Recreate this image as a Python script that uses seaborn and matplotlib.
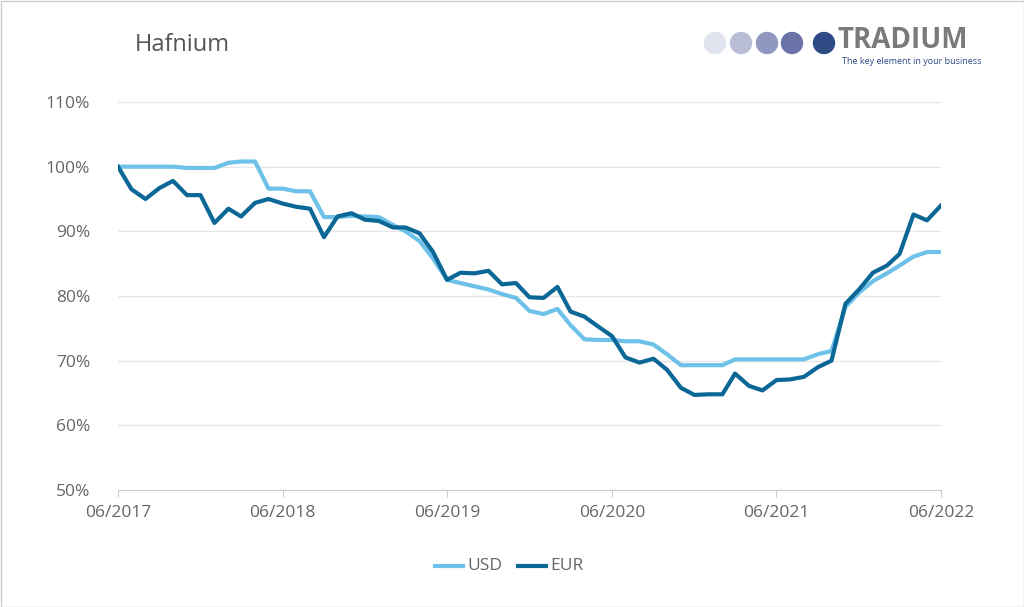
import matplotlib
matplotlib.use("Agg")
import matplotlib.pyplot as plt
import seaborn as sns
import pandas as pd
from matplotlib.patches import Ellipse, Rectangle

plt.rcParams["font.family"] = "Open Sans"

months = pd.date_range("2017-06-01", "2022-06-01", freq="MS")
usd = [100,100,100,100,100,99.8,99.8,99.8,100.6,100.8,100.8,96.6,96.6,96.2,96.2,92.2,92.2,92.4,92.3,92.2,
       91,90,88.5,85.8,82.5,82,81.5,81,80.3,79.7,77.7,77.2,78,75.5,73.3,73.2,73.2,73,73,72.5,
       71,69.3,69.3,69.3,69.3,70.2,70.2,70.2,70.2,70.2,70.2,71,71.5,78.3,80.5,82.3,83.5,84.7,86.1,86.8,86.8]
eur = [100,96.5,95,96.7,97.8,95.6,95.6,91.3,93.5,92.3,94.4,95,94.3,93.8,93.5,89.1,92.3,92.8,91.8,91.6,
       90.6,90.6,89.7,86.8,82.5,83.6,83.5,83.9,81.8,82,79.8,79.7,81.4,77.6,76.8,75.3,73.8,70.5,69.7,70.3,
       68.6,65.8,64.7,64.8,64.8,68,66.1,65.4,67,67.1,67.5,69,70,78.8,81,83.6,84.7,86.5,92.6,91.7,94]
df = pd.DataFrame({"date": list(months)*2, "value": usd+eur, "series": ["USD"]*61+["EUR"]*61})

fig = plt.figure(figsize=(10.24, 6.07), dpi=100)
ax = fig.add_axes([118/1024, 1-490/607, 823/1024, 388/607])
sns.lineplot(data=df, x="date", y="value", hue="series", palette={"USD": "#6EC1E8", "EUR": "#0B6796"},
             linewidth=3, ax=ax, legend=False)
ax.set_xlim(months[0], months[-1])
ax.set_ylim(50, 110)
ax.set_yticks(range(50, 111, 10))
ax.set_yticklabels([f"{v}%" for v in range(50, 111, 10)])
ticks = [months[i] for i in range(0, 61, 12)]
ax.set_xticks(ticks)
ax.set_xticklabels([d.strftime("%m/%Y") for d in ticks])
ax.grid(axis="y", color="#e6e6e6", linewidth=1)
ax.set_axisbelow(True)
for s in ["top", "right", "left"]:
    ax.spines[s].set_visible(False)
ax.spines["bottom"].set_color("#cccccc")
ax.tick_params(axis="y", length=0, labelsize=12.5, colors="#666666", pad=20)
ax.tick_params(axis="x", length=5, color="#cccccc", labelsize=12.5, labelcolor="#666666", pad=6)
ax.set_xlabel(""); ax.set_ylabel("")

fig.text(135/1024, 1-45/607, "Hafnium", fontsize=17, color="#555555", va="center")
fig.add_artist(plt.Line2D([435/1024, 463/1024], [1-566/607]*2, color="#6EC1E8", lw=3))
fig.text(467/1024, 1-566/607, "USD", fontsize=12.5, color="#666666", va="center")
fig.add_artist(plt.Line2D([518/1024, 546/1024], [1-566/607]*2, color="#0B6796", lw=3))
fig.text(550/1024, 1-566/607, "EUR", fontsize=12.5, color="#666666", va="center")
for x, c in zip([715, 741, 767, 792, 824], ["#e1e4ee", "#b9bdd6", "#9198bf", "#6a74a8", "#2d4a85"]):
    fig.add_artist(Ellipse((x/1024, 1-43/607), 21/1024, 21/607, color=c, transform=fig.transFigure))
fig.text(838/1024, 1-41/607, "TRADIUM", fontsize=20, fontweight="bold", color="#7a7a7a", va="center")
fig.text(842/1024, 1-62/607, "The key element in your business", fontsize=6.5, color="#2d4a85", va="center")
fig.add_artist(Rectangle((0.5/1024, 0.5/607), 1-1/1024, 1-1/607, fill=False, ec="#cccccc", lw=1, transform=fig.transFigure))
fig.savefig("out.png", dpi=100)
